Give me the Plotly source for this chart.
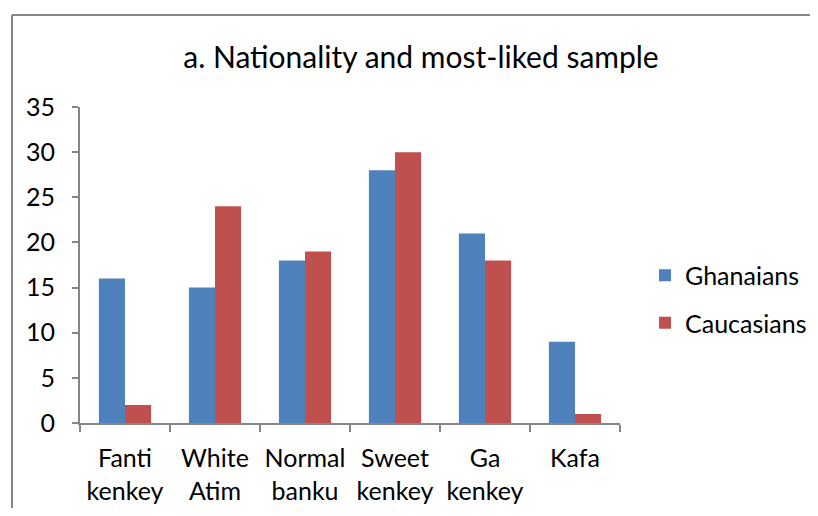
import plotly.graph_objects as go

categories = ["Fanti<br>kenkey", "White<br>Atim", "Normal<br>banku", "Sweet<br>kenkey", "Ga<br>kenkey", "Kafa"]
ghanaians = [16, 15, 18, 28, 21, 9]
caucasians = [2, 24, 19, 30, 18, 1]
y_ticks = [0, 5, 10, 15, 20, 25, 30, 35]

FONT = "Lato"
OX, OY = 8, 8  # page body margin offsets
PW, PH = 818, 516
W, H = PW - OX, PH - 2 * OY
L, R, T, B = 80, 620, 107, 423  # plot area in page coordinates

def px(x):
    return (x - L) / (R - L)

def py(y):
    return (B - y) / (B - T)

fig = go.Figure()
fig.add_trace(go.Bar(x=categories, y=ghanaians, name="Ghanaians",
                     marker=dict(color="#4F81BD", line=dict(width=0)), legendgroup="g"))
fig.add_trace(go.Bar(x=categories, y=caucasians, name="Caucasians",
                     marker=dict(color="#C0504D", line=dict(width=0)), legendgroup="c"))

fig.update_layout(
    width=W, height=H,
    margin=dict(l=L - OX, r=PW - R, t=T - OY, b=(PH - OY) - B, pad=0, autoexpand=False),
    paper_bgcolor="white", plot_bgcolor="white",
    barmode="group", bargap=0.42, bargroupgap=0,
    font=dict(family=FONT, color="black", size=25),
    title=dict(text="a. Nationality and most-liked sample", x=(421 - OX) / W, xanchor="center",
               y=1 - (57 - OY) / H, yanchor="middle", font=dict(size=30, family=FONT)),
    showlegend=True,
    legend=dict(x=px(645), xanchor="left", y=py(299), yanchor="middle",
                traceorder="grouped", tracegroupgap=12, font=dict(size=25, family=FONT),
                itemwidth=30, bgcolor="rgba(0,0,0,0)"),
    xaxis=dict(showline=True, linecolor="#868686", linewidth=2, ticks="outside",
               tickson="boundaries", ticklen=7, tickcolor="#868686", tickwidth=2, tickangle=0,
               showgrid=False, tickfont=dict(size=25, family=FONT), ticklabelstandoff=12,
               automargin=False),
    yaxis=dict(range=[0, 35], tickvals=y_ticks, showline=True, linecolor="#868686", linewidth=2,
               ticks="outside", ticklen=6, tickcolor="#868686", tickwidth=2, showgrid=False,
               zeroline=False, tickfont=dict(size=25, family=FONT), ticklabelstandoff=12,
               automargin=False),
    shapes=[
        dict(type="line", xref="paper", yref="paper", x0=px(12), x1=px(12), y0=py(15), y1=py(530),
             line=dict(color="#878787", width=2)),
        dict(type="line", xref="paper", yref="paper", x0=px(12), x1=px(830), y0=py(15), y1=py(15),
             line=dict(color="#878787", width=2)),
    ],
)

fig.write_html("out.html")
